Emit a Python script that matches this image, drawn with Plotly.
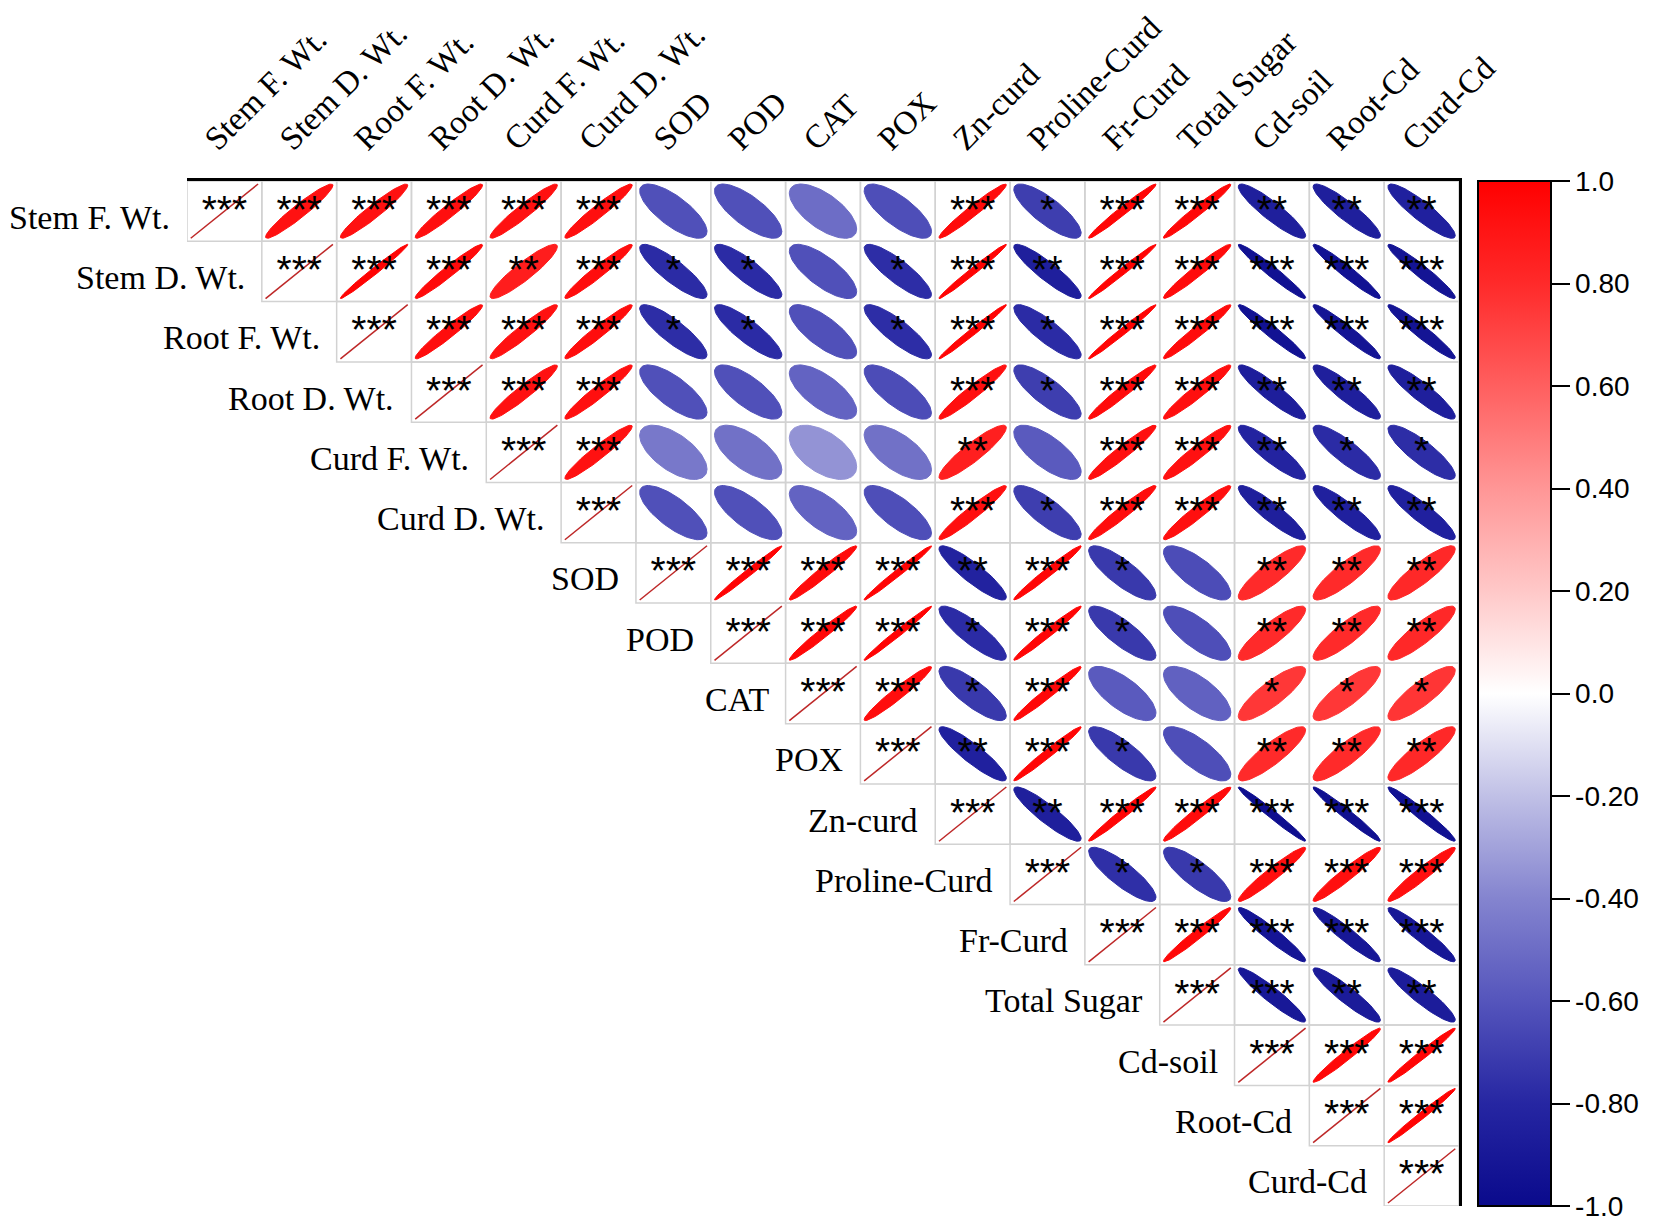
import numpy as np
import plotly.graph_objects as go
from plotly.colors import sample_colorscale

labels = ["Stem F. Wt.", "Stem D. Wt.", "Root F. Wt.", "Root D. Wt.", "Curd F. Wt.",
          "Curd D. Wt.", "SOD", "POD", "CAT", "POX", "Zn-curd", "Proline-Curd",
          "Fr-Curd", "Total Sugar", "Cd-soil", "Root-Cd", "Curd-Cd"]

# upper triangle, row i holds columns i..16
corr_rows = [
    [1.00, 0.92, 0.92, 0.93, 0.92, 0.93, -0.62, -0.62, -0.50, -0.63, 0.95, -0.70, 0.97, 0.96, -0.85, -0.85, -0.84],
    [1.00, 0.98, 0.95, 0.86, 0.94, -0.78, -0.78, -0.62, -0.77, 0.98, -0.85, 0.98, 0.95, -0.95, -0.94, -0.93],
    [1.00, 0.94, 0.92, 0.94, -0.77, -0.78, -0.62, -0.77, 0.98, -0.78, 0.98, 0.95, -0.94, -0.93, -0.93],
    [1.00, 0.92, 0.93, -0.62, -0.62, -0.54, -0.64, 0.93, -0.70, 0.95, 0.93, -0.86, -0.85, -0.85],
    [1.00, 0.92, -0.45, -0.48, -0.35, -0.48, 0.85, -0.58, 0.93, 0.92, -0.82, -0.78, -0.77],
    [1.00, -0.62, -0.62, -0.54, -0.63, 0.93, -0.70, 0.94, 0.93, -0.85, -0.84, -0.84],
    [1.00, 0.98, 0.95, 0.98, -0.83, 0.97, -0.72, -0.64, 0.80, 0.80, 0.81],
    [1.00, 0.96, 0.98, -0.78, 0.97, -0.72, -0.63, 0.80, 0.80, 0.81],
    [1.00, 0.94, -0.72, 0.96, -0.58, -0.55, 0.75, 0.75, 0.76],
    [1.00, -0.84, 0.97, -0.72, -0.63, 0.80, 0.80, 0.81],
    [1.00, -0.85, 0.97, 0.95, -0.97, -0.96, -0.95],
    [1.00, -0.76, -0.72, 0.93, 0.93, 0.93],
    [1.00, 0.96, -0.92, -0.91, -0.91],
    [1.00, -0.90, -0.88, -0.87],
    [1.00, 0.96, 0.97],
    [1.00, 0.98],
    [1.00],
]

sig_rows = [
    ["***", "***", "***", "***", "***", "***", "", "", "", "", "***", "*", "***", "***", "**", "**", "**"],
    ["***", "***", "***", "**", "***", "*", "*", "", "*", "***", "**", "***", "***", "***", "***", "***"],
    ["***", "***", "***", "***", "*", "*", "", "*", "***", "*", "***", "***", "***", "***", "***"],
    ["***", "***", "***", "", "", "", "", "***", "*", "***", "***", "**", "**", "**"],
    ["***", "***", "", "", "", "", "**", "", "***", "***", "**", "*", "*"],
    ["***", "", "", "", "", "***", "*", "***", "***", "**", "**", "**"],
    ["***", "***", "***", "***", "**", "***", "*", "", "**", "**", "**"],
    ["***", "***", "***", "*", "***", "*", "", "**", "**", "**"],
    ["***", "***", "*", "***", "", "", "*", "*", "*"],
    ["***", "**", "***", "*", "", "**", "**", "**"],
    ["***", "**", "***", "***", "***", "***", "***"],
    ["***", "*", "*", "***", "***", "***"],
    ["***", "***", "***", "***", "***"],
    ["***", "***", "**", "**"],
    ["***", "***", "***"],
    ["***", "***"],
    ["***"],
]

cbar_vals = [1.0, 0.8, 0.6, 0.4, 0.2, 0.0, -0.2, -0.4, -0.6, -0.8, -1.0]
cbar_text = ["1.0", "0.80", "0.60", "0.40", "0.20", "0.0", "-0.20", "-0.40", "-0.60", "-0.80", "-1.0"]

colorscale = [
    [0.0, "rgb(10,10,140)"],
    [0.1, "rgb(38,38,162)"],
    [0.2, "rgb(85,85,188)"],
    [0.3, "rgb(132,132,207)"],
    [0.4, "rgb(192,192,230)"],
    [0.5, "rgb(255,255,255)"],
    [0.6, "rgb(255,200,200)"],
    [0.7, "rgb(255,150,150)"],
    [0.8, "rgb(255,95,95)"],
    [0.9, "rgb(255,42,42)"],
    [1.0, "rgb(255,0,0)"],
]

n = len(labels)
half = 0.45       # ellipse half extent in cell units
gamma = 0.6       # shape sharpening
t = np.linspace(0, 2 * np.pi, 90)

fig = go.Figure()
shapes = []
star_x, star_y, star_t = [], [], []

for i in range(n):
    for k, r in enumerate(corr_rows[i]):
        j = i + k
        shapes.append(dict(type="rect", xref="x", yref="y", x0=j - 0.5, x1=j + 0.5,
                           y0=i - 0.5, y1=i + 0.5, layer="below",
                           line=dict(color="rgb(210,210,210)", width=1.5)))
        if j == i:
            fig.add_trace(go.Scatter(x=[j - half, j + half], y=[i + half, i - half], mode="lines",
                                     line=dict(color="rgb(190,40,40)", width=1.5),
                                     hoverinfo="skip"))
        else:
            rs = np.sign(r) * abs(r) ** gamma
            d = np.arccos(rs)
            col = sample_colorscale(colorscale, [(r + 1) / 2])[0]
            fig.add_trace(go.Scatter(x=j + half * np.cos(t), y=i - half * np.cos(t + d),
                                     mode="lines", fill="toself", fillcolor=col,
                                     line=dict(color=col, width=1), hoverinfo="skip"))
        star_x.append(j)
        star_y.append(i + 0.03)
        star_t.append(sig_rows[i][k])

fig.add_trace(go.Scatter(x=star_x, y=star_y, text=star_t, mode="text",
                         textposition="middle center",
                         textfont=dict(family="Liberation Sans", size=39, color="black"),
                         hoverinfo="skip"))

# colorbar only
cbar = dict(x=1.0149, xanchor="left", xpad=0, y=0.5, yanchor="middle", ypad=0,
            len=1, lenmode="fraction", thickness=73, thicknessmode="pixels",
            outlinewidth=2, outlinecolor="black",
            ticks="outside", ticklen=18, tickwidth=2, tickcolor="black",
            tickvals=cbar_vals, ticktext=cbar_text,
            tickfont=dict(family="Liberation Sans", size=28, color="black"))
fig.add_trace(go.Scatter(x=[0], y=[0], mode="markers", hoverinfo="skip",
                         marker=dict(size=0.1, opacity=0, color=[0], cmin=-1, cmax=1,
                                     colorscale=colorscale, showscale=True, colorbar=cbar)))

annotations = []
for i, lab in enumerate(labels):
    annotations.append(dict(x=i - 0.5, y=i, xref="x", yref="y", text=lab, showarrow=False,
                            xanchor="right", yanchor="middle", xshift=-15, yshift=-6,
                            font=dict(family="Liberation Serif", size=34, color="black")))

# page body has an 8px margin, so the figure is made 8px smaller
fig.update_layout(
    width=1646, height=1217,
    margin=dict(l=179, r=195, t=173, b=19),
    plot_bgcolor="white", paper_bgcolor="white",
    showlegend=False,
    shapes=shapes,
    annotations=annotations,
    xaxis=dict(range=[-0.5, n - 0.5], side="top", tickvals=list(range(n)), ticktext=labels,
               tickangle=-45, ticks="", showgrid=False, zeroline=False,
               ticklabelshift=-18, ticklabelstandoff=8,
               showline=True, linecolor="black", linewidth=3, automargin=False,
               tickfont=dict(family="Liberation Serif", size=33, color="black")),
    yaxis=dict(range=[n - 0.5, -0.5], side="right", showticklabels=False, ticks="",
               showgrid=False, zeroline=False, showline=True, linecolor="black",
               linewidth=3, automargin=False),
)

fig.write_html("out.html")
